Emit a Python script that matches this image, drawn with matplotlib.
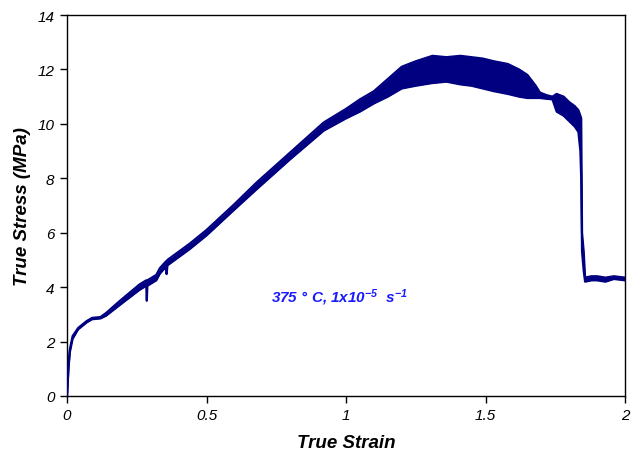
#!/usr/bin/env python3
"""True stress / true strain curve, 375 C, 1e-5 1/s.

Noisy band drawn as lower/upper envelope read off the reference.
Writes: out.png
"""
import matplotlib
matplotlib.use("Agg")
import matplotlib.pyplot as plt

# strain points with lower / upper envelope of the stress band (MPa)
strain = [0.0, 0.005, 0.01, 0.02, 0.04, 0.07, 0.09, 0.12, 0.14, 0.19,
          0.26, 0.284, 0.286, 0.288, 0.32, 0.333, 0.355, 0.357, 0.36, 0.44,
          0.5, 0.6, 0.68, 0.8, 0.92, 1.0, 1.05, 1.1, 1.15, 1.2,
          1.25, 1.31, 1.36, 1.41, 1.45, 1.49, 1.53, 1.58, 1.62, 1.65,
          1.68, 1.695, 1.72, 1.74, 1.755, 1.78, 1.8, 1.82, 1.833, 1.84,
          1.843, 1.846, 1.852, 1.857, 1.88, 1.9, 1.93, 1.96, 2.0]
stress_lo = [0.0, 1.0, 1.6, 2.1, 2.45, 2.7, 2.82, 2.85, 2.95, 3.35,
             3.9, 4.05, 3.5, 4.05, 4.25, 4.5, 4.75, 4.48, 4.8, 5.4,
             5.9, 6.85, 7.6, 8.7, 9.75, 10.2, 10.45, 10.75, 11.0, 11.3,
             11.4, 11.5, 11.55, 11.45, 11.4, 11.3, 11.2, 11.1, 11.0, 10.95,
             10.95, 10.95, 10.92, 10.9, 10.45, 10.3, 10.1, 9.9, 9.7, 9.0,
             8.0, 5.3, 4.6, 4.2, 4.25, 4.25, 4.2, 4.3, 4.25]
stress_hi = [0.0, 1.0, 1.7, 2.2, 2.5, 2.75, 2.87, 2.9, 3.05, 3.5,
             4.1, 4.25, 4.25, 4.25, 4.45, 4.7, 4.95, 4.95, 5.0, 5.6,
             6.1, 7.05, 7.85, 8.95, 10.05, 10.55, 10.9, 11.2, 11.65, 12.1,
             12.3, 12.5, 12.45, 12.5, 12.45, 12.4, 12.3, 12.2, 12.0, 11.8,
             11.4, 11.15, 11.05, 11.0, 11.1, 11.0, 10.8, 10.65, 10.5, 10.3,
             10.2, 6.0, 5.3, 4.35, 4.4, 4.4, 4.35, 4.4, 4.35]

LINE = "#000080"

plt.rcParams["font.family"] = ["Liberation Sans", "DejaVu Sans"]
plt.rcParams["mathtext.fontset"] = "custom"
plt.rcParams["mathtext.rm"] = "Liberation Sans:italic:bold"
plt.rcParams["mathtext.it"] = "Liberation Sans:italic:bold"

fig = plt.figure(figsize=(6.31, 4.52), dpi=100)
ax = fig.add_axes([0.1062, 0.1217, 0.8843, 0.8429])

ax.fill_between(strain, stress_lo, stress_hi, color=LINE, linewidth=0, zorder=2)
ax.plot(strain, stress_lo, color=LINE, linewidth=1.6, zorder=3)
ax.plot(strain, stress_hi, color=LINE, linewidth=1.6, zorder=3)

ax.set_xlim(0, 2)
ax.set_ylim(0, 14)
ax.set_xticks([0, 0.5, 1, 1.5, 2])
ax.set_xticklabels(["0", "0.5", "1", "1.5", "2"])
ax.set_yticks(range(0, 15, 2))
ax.tick_params(direction="out", length=5, width=1, labelsize=11, pad=4)
for lbl in ax.get_xticklabels() + ax.get_yticklabels():
    lbl.set_style("italic")
for sp in ax.spines.values():
    sp.set_linewidth(1)
    sp.set_color("black")

ax.set_xlabel("True Strain", fontsize=13.5, fontweight="bold", style="italic", labelpad=8)
ax.set_ylabel("True Stress (MPa)", fontsize=13.5, fontweight="bold", style="italic", labelpad=5)

ax.text(0.731, 3.64, r"375 ° C, 1x10$^{-5}$  s$^{-1}$", color="#1a1aff",
        fontsize=11, fontweight="bold", style="italic", va="center")

fig.savefig("out.png", dpi=100)
